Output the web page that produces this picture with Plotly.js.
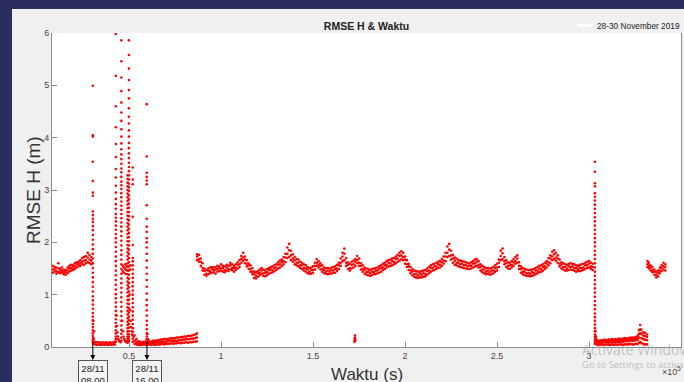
<!DOCTYPE html>
<html>
<head>
<meta charset="utf-8">
<script src="https://cdn.plot.ly/plotly-3.0.1.min.js"></script>
<style>
html,body{margin:0;padding:0;width:684px;height:382px;overflow:hidden;background:#2b2d5f;}
#chart{position:absolute;left:12px;top:9px;width:672px;height:373px;}
</style>
</head>
<body>
<div id="chart"></div>
<script>
// time in kiloseconds (converted to seconds when plotted)
const tA = [8.5,9.5,10.5,11.5,12.5,13.5,14.5,15.5,16.5,17.5,18.5,19.5,20.5,21.5,22.5,23.5,24.5,25.5,26.5,27.5,28.5,29.5];
const loA = [1.42,1.44,1.40,1.43,1.41,1.42,1.39,1.38,1.41,1.44,1.46,1.47,1.49,1.52,1.54,1.55,1.58,1.57,1.60,1.62,1.60,1.58];
const midA = [1.48,1.49,1.45,1.50,1.46,1.46,1.44,1.43,1.46,1.50,1.51,1.52,1.54,1.58,1.58,1.61,1.63,1.65,1.66,1.71,1.67,1.65];
const hiA = [1.55,1.53,1.52,1.60,1.50,1.52,1.48,1.47,1.52,1.55,1.57,1.56,1.60,1.62,1.63,1.66,1.70,1.72,1.74,1.80,1.76,1.72];

const tB = [30.8,31.5,32.5,33.5,34.5,35.5,36.5,37.5,38.5,39.5,40.5,41.5,42.3];
const loB = [0.06,0.05,0.04,0.05,0.04,0.05,0.04,0.05,0.04,0.05,0.04,0.05,0.05];
const hiB = [0.16,0.10,0.09,0.09,0.08,0.09,0.08,0.09,0.08,0.09,0.08,0.09,0.10];

const tC = [53,54,55,56,57,58,59,60,61,62,63,64,65,66,67,68,69,70,71,72,73,74,75,76,77,78,79,80,81,82,83,84,85,86,86.8];
const loC = [0.06,0.05,0.04,0.04,0.04,0.05,0.04,0.04,0.05,0.04,0.05,0.04,0.05,0.05,0.05,0.06,0.05,0.06,0.06,0.06,0.07,0.06,0.07,0.07,0.08,0.07,0.08,0.08,0.09,0.08,0.09,0.09,0.10,0.10,0.11];
const midC = [0.12,0.09,0.07,0.07,0.06,0.07,0.07,0.07,0.08,0.07,0.08,0.08,0.09,0.09,0.09,0.10,0.10,0.10,0.11,0.11,0.12,0.11,0.12,0.12,0.13,0.13,0.14,0.14,0.15,0.15,0.15,0.16,0.16,0.17,0.18];
const hiC = [0.22,0.15,0.11,0.10,0.09,0.10,0.10,0.11,0.11,0.10,0.12,0.12,0.13,0.13,0.14,0.14,0.15,0.15,0.15,0.16,0.17,0.16,0.17,0.18,0.18,0.19,0.19,0.20,0.20,0.21,0.21,0.22,0.23,0.24,0.26];

const tD = [87,88,89,90,91,92,93,94,95,96,97,98,99,100,101,102,103,104,105,106,107,108,109,110,111,112,113,114,115,116,117,118,119,120,121,122,123,124,125,126,127,128,129,130,131,132,133,134,135,136,137,138,139,140,141,142,143,144,145,146,147,148,149,150,151,152,153,154,155,156,157,158,159,160,161,162,163,164,165,166,167,168,169,170,171,172,173,174,175,176,177,178,179,180,181,182,183,184,185,186,187,188,189,190,191,192,193,194,195,196,197,198,199,200,201,202,203,204,205,206,207,208,209,210,211,212,213,214,215,216,217,218,219,220,221,222,223,224,225,226,227,228,229,230,231,232,233,234,235,236,237,238,239,240,241,242,243,244,245,246,247,248,249,250,251,252,253,254,255,256,257,258,259,260,261,262,263,264,265,266,267,268,269,270,271,272,273,274,275,276,277,278,279,280,281,282,283,284,285,286,287,288,289,290,291,292,293,294,295,296,297,298,299,300,301,302];
const loD = [1.66,1.63,1.55,1.46,1.38,1.36,1.39,1.41,1.42,1.43,
1.40,1.44,1.45,1.46,1.44,1.43,1.46,1.45,1.48,1.47,
1.44,1.47,1.50,1.53,1.61,1.65,1.60,1.54,1.49,1.44,
1.39,1.32,1.31,1.34,1.37,1.40,1.36,1.35,1.37,1.40,
1.42,1.43,1.45,1.47,1.50,1.52,1.55,1.58,1.62,1.70,
1.72,1.66,1.63,1.58,1.56,1.54,1.51,1.49,1.46,1.44,
1.41,1.40,1.40,1.42,1.48,1.55,1.52,1.48,1.44,1.41,
1.40,1.39,1.40,1.40,1.42,1.42,1.45,1.49,1.55,1.64,
1.66,1.55,1.49,1.46,1.50,1.52,1.55,1.60,1.55,1.48,
1.44,1.40,1.38,1.37,1.36,1.37,1.39,1.39,1.41,1.42,
1.44,1.47,1.49,1.52,1.54,1.55,1.56,1.58,1.60,1.63,
1.65,1.68,1.66,1.59,1.53,1.47,1.41,1.37,1.34,1.33,
1.32,1.33,1.33,1.34,1.35,1.38,1.41,1.44,1.46,1.47,
1.49,1.51,1.52,1.55,1.59,1.64,1.72,1.74,1.67,1.61,
1.57,1.56,1.54,1.53,1.52,1.51,1.50,1.49,1.49,1.50,
1.52,1.54,1.55,1.52,1.46,1.43,1.41,1.39,1.40,1.38,
1.39,1.41,1.44,1.46,1.53,1.66,1.68,1.58,1.53,1.50,
1.49,1.52,1.55,1.59,1.61,1.49,1.42,1.39,1.37,1.36,
1.36,1.35,1.36,1.37,1.39,1.41,1.43,1.44,1.46,1.49,
1.52,1.56,1.60,1.66,1.68,1.65,1.61,1.54,1.50,1.48,
1.46,1.46,1.47,1.48,1.47,1.46,1.44,1.45,1.45,1.46,
1.47,1.49,1.51,1.52,1.49,1.47];
const midD = [1.73,1.68,1.63,1.51,1.45,1.40,1.46,1.45,1.49,1.47,
1.48,1.49,1.51,1.50,1.51,1.47,1.52,1.49,1.56,1.51,
1.51,1.52,1.57,1.58,1.68,1.71,1.67,1.59,1.56,1.49,
1.44,1.39,1.36,1.41,1.42,1.46,1.41,1.42,1.43,1.47,
1.48,1.47,1.51,1.52,1.57,1.58,1.62,1.64,1.71,1.78,
1.85,1.75,1.69,1.66,1.61,1.61,1.56,1.56,1.51,1.50,
1.48,1.44,1.47,1.47,1.55,1.61,1.57,1.55,1.49,1.47,
1.44,1.46,1.44,1.47,1.46,1.49,1.50,1.56,1.61,1.73,
1.78,1.61,1.57,1.51,1.57,1.58,1.63,1.66,1.61,1.55,
1.49,1.47,1.43,1.44,1.41,1.44,1.43,1.46,1.46,1.49,
1.51,1.52,1.56,1.57,1.61,1.60,1.64,1.63,1.68,1.69,
1.74,1.75,1.72,1.67,1.58,1.54,1.46,1.44,1.39,1.40,
1.37,1.40,1.38,1.41,1.40,1.45,1.46,1.51,1.51,1.54,
1.54,1.58,1.57,1.62,1.65,1.73,1.80,1.86,1.75,1.69,
1.65,1.61,1.61,1.58,1.59,1.56,1.57,1.54,1.56,1.55,
1.59,1.60,1.63,1.57,1.53,1.48,1.48,1.44,1.46,1.43,
1.46,1.46,1.51,1.52,1.61,1.74,1.79,1.64,1.60,1.55,
1.56,1.57,1.62,1.64,1.69,1.55,1.49,1.44,1.44,1.41,
1.42,1.40,1.43,1.42,1.46,1.46,1.50,1.49,1.53,1.54,
1.59,1.62,1.69,1.73,1.77,1.71,1.69,1.59,1.57,1.53,
1.53,1.50,1.54,1.53,1.54,1.51,1.51,1.49,1.52,1.51,
1.52,1.56,1.56,1.59,1.54,1.53];
const hiD = [1.77,1.76,1.69,1.60,1.50,1.47,1.50,1.52,1.53,1.52,
1.53,1.55,1.54,1.58,1.55,1.54,1.57,1.55,1.61,1.58,
1.55,1.58,1.62,1.66,1.74,1.80,1.73,1.66,1.60,1.56,
1.51,1.44,1.43,1.45,1.48,1.51,1.48,1.46,1.49,1.51,
1.53,1.54,1.56,1.58,1.62,1.65,1.67,1.72,1.78,1.90,
1.97,1.84,1.77,1.72,1.68,1.67,1.63,1.61,1.58,1.56,
1.53,1.51,1.52,1.54,1.61,1.68,1.64,1.60,1.56,1.52,
1.51,1.51,1.50,1.52,1.53,1.54,1.57,1.61,1.69,1.80,
1.88,1.70,1.62,1.59,1.63,1.65,1.68,1.74,1.69,1.60,
1.56,1.52,1.50,1.49,1.47,1.49,1.50,1.51,1.52,1.54,
1.56,1.59,1.61,1.64,1.66,1.67,1.69,1.70,1.73,1.76,
1.80,1.83,1.80,1.73,1.66,1.59,1.53,1.49,1.46,1.45,
1.44,1.44,1.45,1.46,1.47,1.50,1.53,1.56,1.58,1.59,
1.61,1.63,1.64,1.68,1.73,1.80,1.92,1.97,1.84,1.76,
1.71,1.69,1.66,1.65,1.64,1.63,1.62,1.61,1.60,1.62,
1.64,1.67,1.68,1.64,1.58,1.55,1.53,1.51,1.51,1.50,
1.51,1.53,1.56,1.59,1.67,1.84,1.88,1.72,1.66,1.62,
1.61,1.64,1.68,1.72,1.75,1.62,1.54,1.51,1.49,1.48,
1.47,1.47,1.48,1.49,1.51,1.53,1.55,1.56,1.58,1.61,
1.64,1.70,1.75,1.82,1.85,1.80,1.75,1.67,1.62,1.60,
1.58,1.57,1.59,1.60,1.59,1.58,1.56,1.55,1.57,1.58,
1.59,1.61,1.63,1.64,1.61,1.59];

const tE = [303.8,304.5,305.5,306.5,307.5,308.5,309.5,310.5,311.5,312.5,313.5,314.5,315.5,316.5,317.5,318.5,319.5,320.5,321.5,322.5,323.5,324.5,325.5,326.5,327.2,327.8,328.5,329.5,330.5,331.5];
const loE = [0.06,0.04,0.04,0.05,0.04,0.04,0.05,0.04,0.04,0.05,0.04,0.05,0.04,0.05,0.05,0.04,0.05,0.05,0.05,0.06,0.05,0.05,0.06,0.06,0.08,0.10,0.07,0.06,0.05,0.05];
const midE = [0.12,0.08,0.08,0.09,0.08,0.09,0.09,0.08,0.09,0.10,0.09,0.10,0.09,0.10,0.10,0.10,0.11,0.11,0.11,0.12,0.12,0.12,0.13,0.14,0.18,0.26,0.17,0.15,0.14,0.13];
const upE = [0.16,0.11,0.10,0.11,0.10,0.12,0.11,0.11,0.12,0.13,0.12,0.13,0.12,0.13,0.13,0.13,0.14,0.14,0.14,0.15,0.15,0.15,0.16,0.18,0.25,0.34,0.25,0.22,0.21,0.19];
const hiE = [0.20,0.13,0.12,0.13,0.13,0.14,0.13,0.14,0.14,0.15,0.14,0.15,0.15,0.16,0.15,0.16,0.17,0.16,0.17,0.18,0.18,0.18,0.19,0.22,0.32,0.42,0.33,0.28,0.27,0.24];

const tF = [331.8,332.6,333.5,334.5,335.5,336.5,337.5,338.5,339.5,340.5,341.5];
const loF = [1.53,1.50,1.46,1.43,1.38,1.33,1.35,1.41,1.45,1.48,1.46];
const midF = [1.58,1.55,1.52,1.47,1.44,1.38,1.41,1.46,1.51,1.54,1.53];
const hiF = [1.64,1.61,1.56,1.53,1.48,1.44,1.46,1.52,1.56,1.61,1.58];

// near-vertical spikes: time (ks) and the values recorded there
const spikeT = [30.3, 42.8, 45.8, 49.2, 49.9, 52.0, 59.6, 303.2];
const spike1 = [0.08,0.12,0.16,0.21,0.26,0.32,0.38,0.44,0.51,0.58,0.65,0.73,0.81,0.89,0.97,1.06,1.15,1.24,1.33,1.42,1.51,1.6,1.69,1.78,1.87,1.96,2.05,2.14,2.23,2.31,2.39,2.45,2.52,2.59,2.89,2.95,3.17,3.54,4.02,4.05,4.99];
const spike2 = [0.1,0.15,0.2,0.26,0.32,0.39,0.46,0.53,0.61,0.69,0.77,0.85,0.93,1.01,1.1,1.19,1.28,1.37,1.46,1.55,1.64,1.73,1.82,1.91,2.0,2.08,2.16,2.24,2.32,2.4,2.47,2.54,2.64,2.73,2.83,2.95,3.08,3.24,3.4,3.63,3.88,4.2,4.6,5.18,5.98];
const spike3 = [0.12,0.18,0.25,0.33,0.41,0.5,0.59,0.68,0.77,0.86,0.95,1.04,1.13,1.22,1.31,1.4,1.49,1.58,1.67,1.76,1.85,1.94,2.03,2.12,2.21,2.3,2.38,2.46,2.54,2.62,2.7,2.78,2.86,2.94,3.02,3.09,3.16,3.25,3.34,3.41,3.5,3.59,3.68,3.78,3.89,4.02,4.16,4.32,4.48,4.67,4.89,5.15,5.46,5.86];
const spike4 = [0.08,0.12,0.16,0.2,0.25,0.3,0.36,0.42,0.48,0.55,0.62,0.69,0.76,0.83,0.9,0.97,1.04,1.11,1.18,1.25,1.32,1.39,1.46,1.53,1.6,1.67,1.74,1.81,1.88,1.95,2.02,2.09,2.16,2.23,2.3,2.37,2.44,2.51,2.58,2.65,2.72,2.79,2.86,2.93,3.0,3.07,3.14,3.21,3.28];
const spike5 = [0.1,0.14,0.19,0.24,0.3,0.37,0.44,0.51,0.58,0.66,0.74,0.82,0.9,0.98,1.06,1.14,1.22,1.3,1.38,1.46,1.54,1.62,1.7,1.78,1.86,1.94,2.02,2.1,2.18,2.26,2.34,2.42,2.5,2.58,2.66,2.74,2.82,2.9,2.98,3.05,3.12,3.2,3.28,3.36,3.44,3.52,3.61,3.7,3.8,3.9,4.02,4.14,4.27,4.4,4.56,4.75,4.91,5.1,5.32,5.58,5.86];
const spike6 = [0.1,0.16,0.22,0.29,0.36,0.44,0.52,0.6,0.68,0.76,0.84,0.92,1.0,1.08,1.16,1.24,1.32,1.4,1.48,1.56,1.64,1.7,1.95,2.49,3.11,3.2,3.43];
const spike7 = [0.1,0.15,0.2,0.26,0.34,0.42,0.5,0.6,0.7,0.8,0.9,1.02,1.15,1.28,1.4,1.52,1.65,1.78,1.9,2.0,2.08,2.2,2.3,2.45,2.71,3.11,3.18,3.25,3.33,3.64,4.64];
const spike8 = [0.06,0.1,0.14,0.19,0.24,0.3,0.36,0.43,0.5,0.57,0.64,0.72,0.8,0.88,0.96,1.04,1.12,1.2,1.28,1.36,1.44,1.52,1.6,1.68,1.76,1.84,1.92,2.0,2.08,2.16,2.24,2.32,2.4,2.48,2.56,2.64,2.72,2.8,2.87,2.94,3.07,3.13,3.35,3.54];
const spikes = [spike1, spike2, spike3, spike4, spike5, spike6, spike7, spike8];

// scattered decay tails and small clusters
const miscT = [43.2,43.4,43.6,43.9,44.2,44.6,45.0,45.4,46.3,46.6,47.0,47.4,47.8,48.3,48.7,46.5,46.6,47.1,47.3,47.7,47.9,48.2,48.4,48.6,50.5,50.7,50.3,50.5,50.8,51.1,51.4,51.7,52.5,60.0,60.3,60.6,31.0,30.6,172.5,172.6,172.7,172.8,172.9,173.0,303.5,303.6];
const miscY = [0.6,0.4,0.28,0.2,0.15,0.12,0.1,0.09,0.5,0.3,0.2,0.15,0.12,0.1,0.09,1.45,1.55,1.42,1.52,1.5,1.58,1.4,1.47,1.55,1.48,1.56,1.0,0.7,0.5,0.38,0.3,0.24,0.2,0.25,0.15,0.1,0.3,0.5,0.1,0.14,0.18,0.22,0.16,0.12,0.3,0.2];

const xTickVals = [50000,100000,150000,200000,250000,300000];
const xTickText = ['0.5','1','1.5','2','2.5','3'];
const yTickVals = [0,1,2,3,4,5,6];
const legendText = '28-30 November 2019';
const markers = [{t:30.3, label:'28/11<br>08.00'},{t:59.7, label:'28/11<br>16.00'}];

const ks = v => v * 1000;
const mk = {color:'#ff0000', size:2.6};
function pts(t, ys){
  let x = [], y = [];
  ys.forEach(a => { x = x.concat(t.map(ks)); y = y.concat(a); });
  return {type:'scatter', mode:'markers', x:x, y:y, marker:mk, hoverinfo:'skip', showlegend:false};
}
const traces = [
  pts(tA,[loA,midA,hiA]), pts(tB,[loB,hiB]), pts(tC,[loC,midC,hiC]), pts(tD,[loD,midD,hiD]),
  pts(tE,[loE,midE,upE,hiE]), pts(tF,[loF,midF,hiF])
];
spikes.forEach((s,i) => {
  traces.push({type:'scatter', mode:'markers', x:s.map(() => ks(spikeT[i])), y:s, marker:mk, hoverinfo:'skip', showlegend:false});
});
traces.push({type:'scatter', mode:'markers', x:miscT.map(ks), y:miscY, marker:mk, hoverinfo:'skip', showlegend:false});

// plot area: page x 52..681, y 33..347
const px = X => (X - 52) / 629;
const py = Y => (347 - Y) / 314;
const F = 'Liberation Sans, Arial, Helvetica, sans-serif';

const annotations = [
  {xref:'paper', yref:'paper', x:px(33), y:py(190), xanchor:'center', yanchor:'middle', text:'RMSE H (m)', textangle:-90, showarrow:false, font:{family:F, size:19, color:'#333'}},
  {xref:'paper', yref:'paper', x:0.5, y:py(374), xanchor:'center', text:'Waktu (s)', showarrow:false, yanchor:'middle', font:{family:F, size:17, color:'#333'}},
  {xref:'paper', yref:'paper', x:px(683), y:py(371), xanchor:'right', yanchor:'middle', text:'×10<sup>5</sup>', showarrow:false, font:{family:F, size:9, color:'#444'}},
  {xref:'paper', yref:'paper', x:px(595), y:py(26.5), xanchor:'left', yanchor:'middle', text:legendText, showarrow:false, font:{family:F, size:8.3, color:'#222'}},
  {xref:'paper', yref:'paper', x:px(580), y:py(349), xanchor:'left', yanchor:'middle', text:'Activate Windows', showarrow:false, font:{family:'Open Sans, sans-serif', size:14, color:'rgba(150,150,150,0.55)'}},
  {xref:'paper', yref:'paper', x:px(580), y:py(364), xanchor:'left', yanchor:'middle', text:'Go to Settings to activate Windows.', showarrow:false, font:{family:'Open Sans, sans-serif', size:9.5, color:'rgba(150,150,150,0.6)'}}
];
markers.forEach(m => {
  annotations.push({xref:'x', yref:'paper', x:ks(m.t), y:py(360), text:'', showarrow:true, ax:0, ay:-20, arrowhead:2, arrowsize:1, arrowwidth:1, arrowcolor:'#000', standoff:0});
  annotations.push({xref:'x', yref:'paper', x:ks(m.t), y:py(360), yanchor:'top', text:m.label, showarrow:false, bordercolor:'#555', borderwidth:1, borderpad:2, bgcolor:'#f4f4f4', font:{family:F, size:9.5, color:'#222'}});
});

const layout = {
  width:672, height:373,
  margin:{l:40, r:3, t:24, b:35},
  paper_bgcolor:'#f0f0f0', plot_bgcolor:'#ffffff',
  title:{text:'<b>RMSE H &amp; Waktu</b>', x:0.5, xref:'paper', y:1 - 17/373, yref:'container', yanchor:'middle', font:{family:F, size:10.5, color:'#222'}},
  xaxis:{range:[8100, 350000], tickvals:xTickVals, ticktext:xTickText, ticks:'inside', ticklen:5, tickcolor:'#8c8c8c',
    showline:true, linecolor:'#8c8c8c', linewidth:1, showgrid:false, zeroline:false, tickfont:{family:F, size:9, color:'#444'}},
  yaxis:{range:[0,6], tickvals:yTickVals, ticks:'inside', ticklen:5, tickcolor:'#8c8c8c', mirror:true,
    showline:true, linecolor:'#8c8c8c', linewidth:1, showgrid:false, zeroline:false, tickfont:{family:F, size:9, color:'#444'}},
  shapes:[{type:'line', xref:'paper', yref:'paper', x0:px(577), x1:px(593), y0:py(25.5), y1:py(25.5), line:{color:'#ffffff', width:3}}],
  annotations:annotations,
  showlegend:false
};
Plotly.newPlot('chart', traces, layout, {staticPlot:true, displayModeBar:false});
</script>
</body>
</html>
